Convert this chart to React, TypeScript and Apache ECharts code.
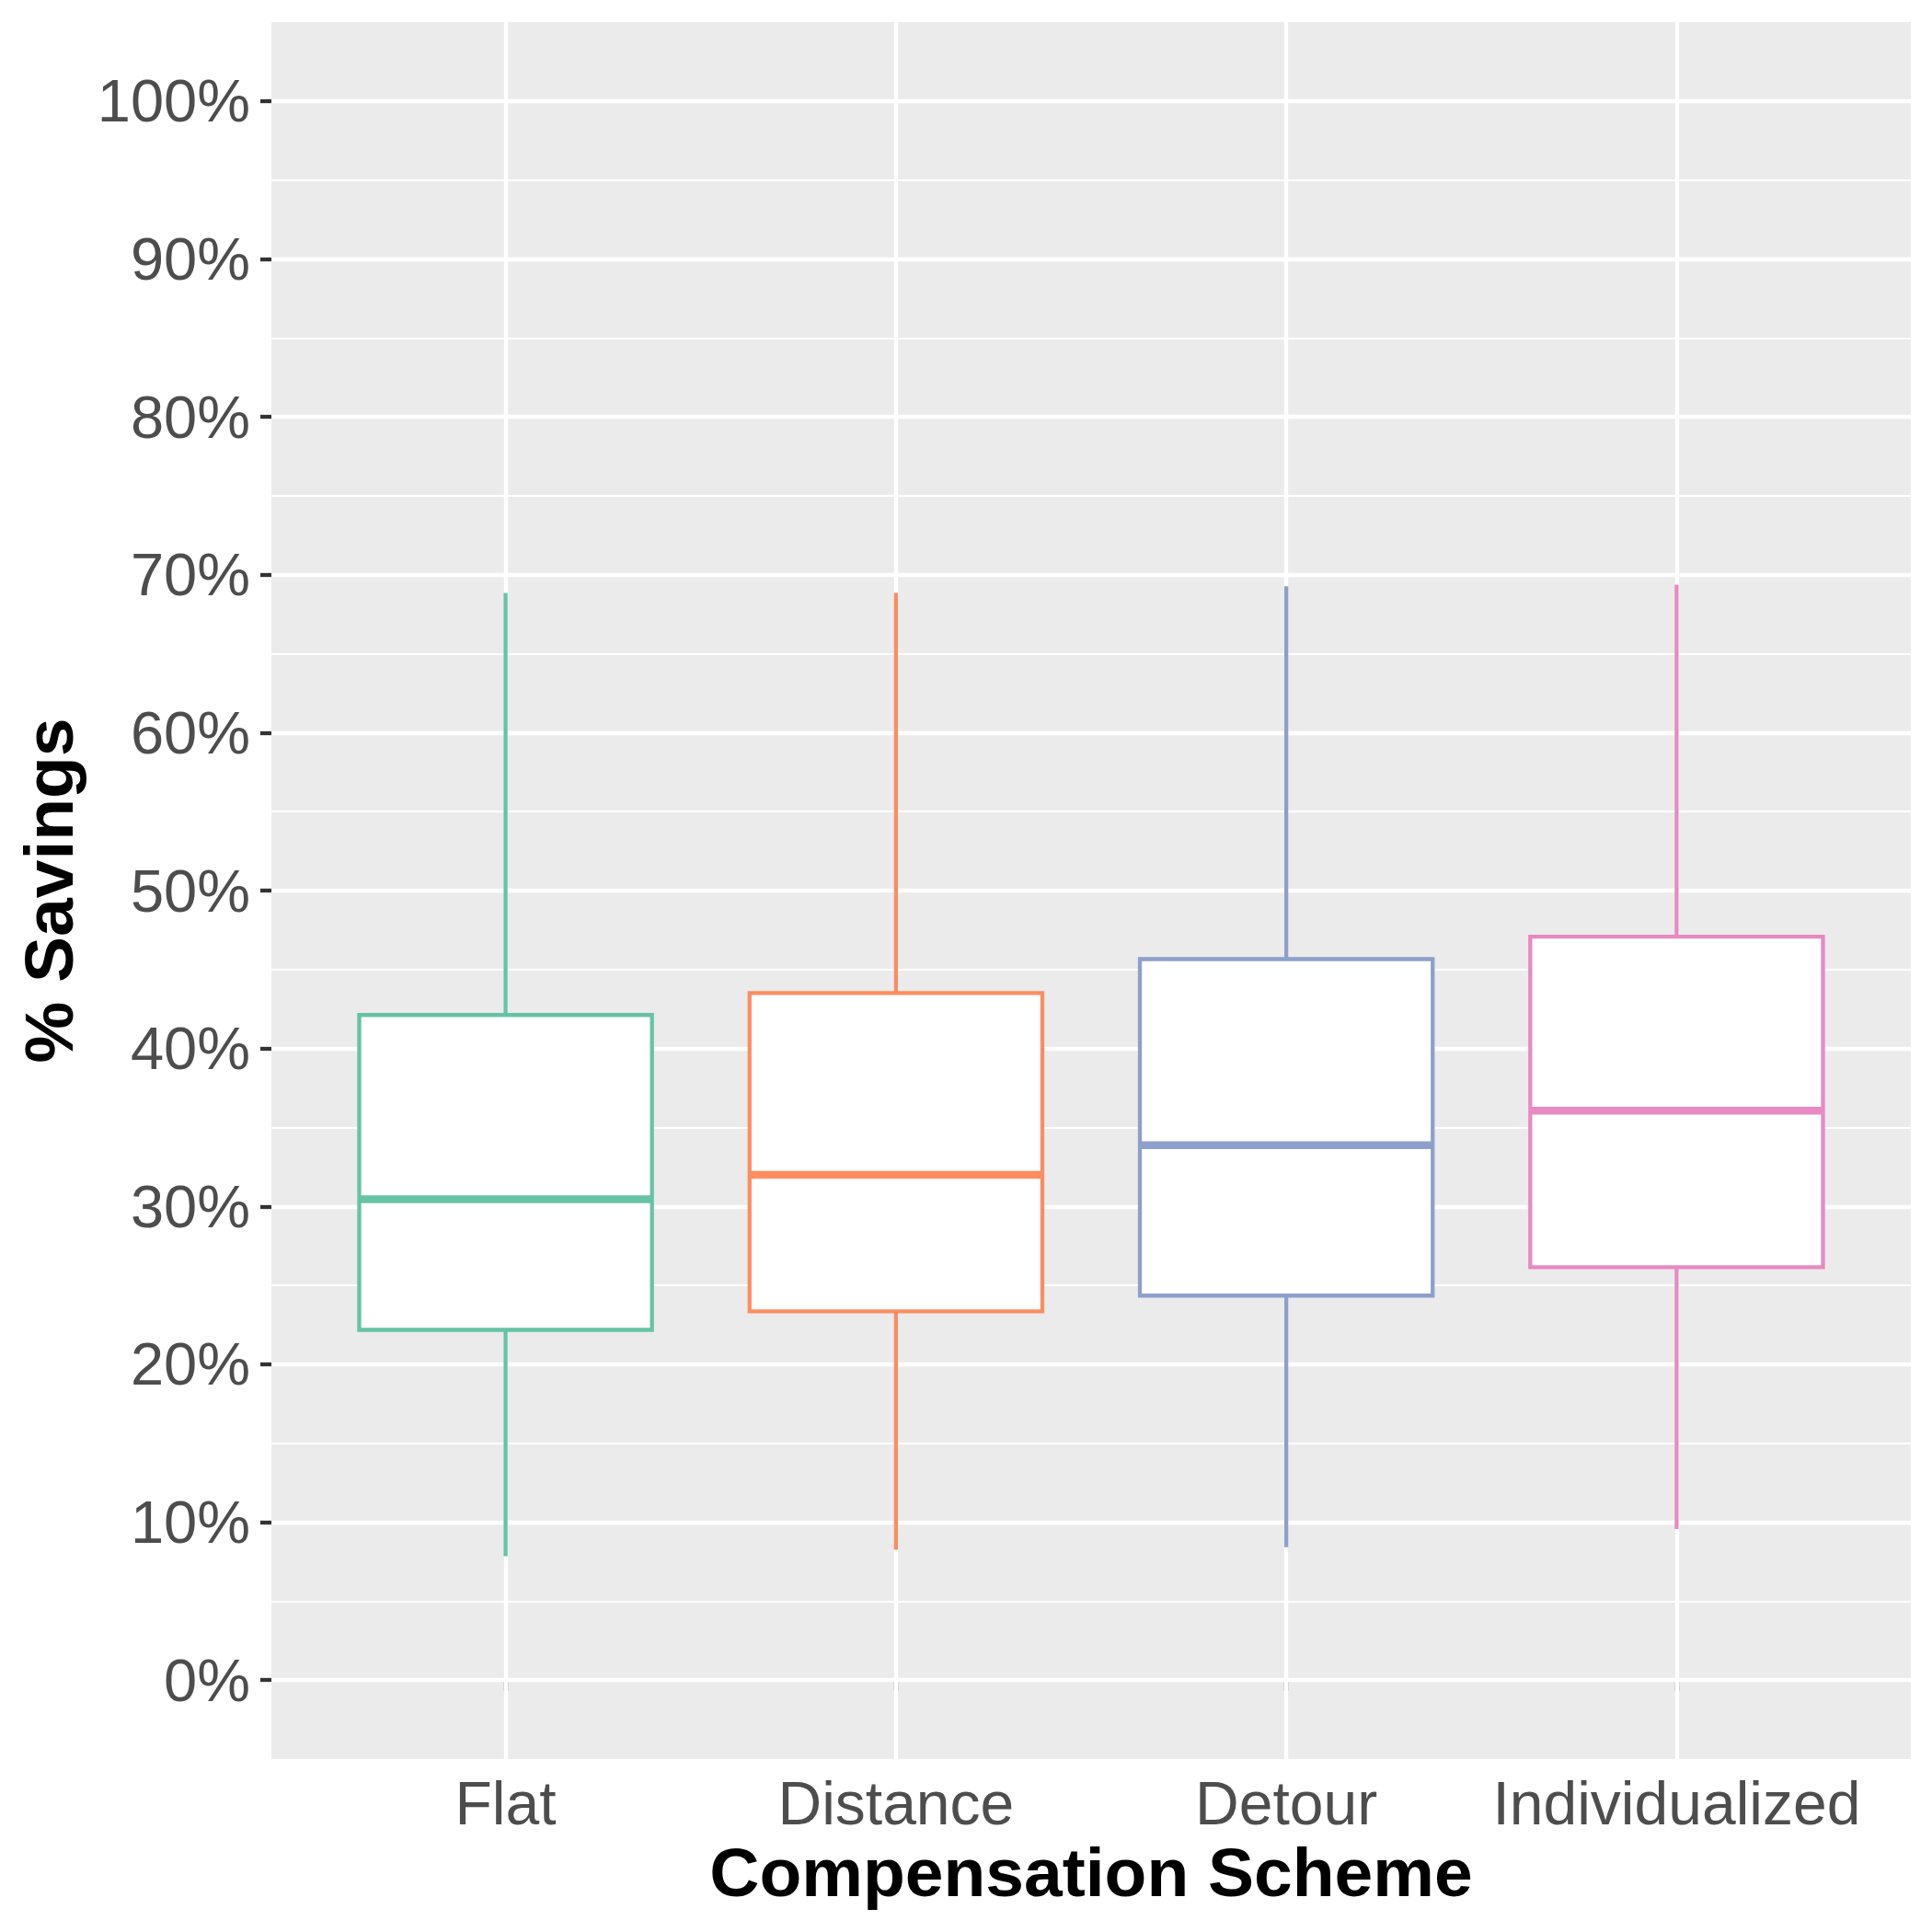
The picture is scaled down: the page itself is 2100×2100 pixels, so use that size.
import React, { useEffect, useRef } from "react";
import * as echarts from "echarts";

const categories = ["Flat", "Distance", "Detour", "Individualized"];
const positions = [1, 2, 3, 4];
const whiskerLow = [7.85, 8.26, 8.41, 9.57];
const lowerQuartile = [22.18, 23.35, 24.35, 26.15];
const medians = [30.45, 32.0, 33.88, 36.06];
const upperQuartile = [42.12, 43.51, 45.66, 47.08];
const whiskerHigh = [68.85, 68.85, 69.27, 69.37];
const yMajorTicks = [0, 10, 20, 30, 40, 50, 60, 70, 80, 90, 100];
const yMinorTicks = [5, 15, 25, 35, 45, 55, 65, 75, 85, 95];
const boxColors = ["#66C2A5", "#FC8D62", "#8DA0CB", "#E78AC3"];

const FONT = "'Liberation Sans', Arial, Helvetica, sans-serif";
const MAJOR_W = 4.3;
const MINOR_W = 2.1;
const BOX_W = 4.3;
const MEDIAN_W = 8.6;
const BOX_WIDTH_UNITS = 0.75;

export default function App() {
  const ref = useRef<HTMLDivElement>(null);

  useEffect(() => {
    document.body.style.margin = "0";
    if (!ref.current) return;
    const chart = echarts.init(ref.current, undefined, { renderer: "svg" });

    const boxData = positions.map((p, i) => [
      p,
      whiskerLow[i],
      lowerQuartile[i],
      medians[i],
      upperQuartile[i],
      whiskerHigh[i],
    ]);

    const gridLines: any[] = [
      ...yMinorTicks.map((v) => ({ yAxis: v, lineStyle: { width: MINOR_W } })),
      ...yMajorTicks.map((v) => ({ yAxis: v, lineStyle: { width: MAJOR_W } })),
      ...positions.map((v) => ({ xAxis: v, lineStyle: { width: MAJOR_W } })),
    ];

    const option: any = {
      animation: false,
      backgroundColor: "#FFFFFF",
      grid: {
        left: 295,
        right: 23,
        top: 24,
        bottom: 188,
        show: true,
        backgroundColor: "#EBEBEB",
        borderWidth: 0,
        containLabel: false,
      },
      xAxis: {
        type: "value",
        min: 0.4,
        max: 4.6,
        axisLine: { show: false },
        axisTick: {
          show: true,
          customValues: positions,
          length: 12,
          lineStyle: { color: "#333333", width: MAJOR_W },
        },
        axisLabel: {
          customValues: positions,
          formatter: (v: number) => {
            const idx = Math.round(v) - 1;
            return Math.abs(v - Math.round(v)) < 1e-6 && categories[idx] ? categories[idx] : "";
          },
          margin: 15,
          fontSize: 66,
          color: "#4D4D4D",
          fontFamily: FONT,
        },
        splitLine: { show: false },
        name: "Compensation Scheme",
        nameLocation: "middle",
        nameGap: 85,
        nameTextStyle: {
          fontSize: 75,
          fontWeight: "bold",
          color: "#000000",
          fontFamily: FONT,
        },
      },
      yAxis: {
        type: "value",
        min: -5,
        max: 105,
        axisLine: { show: false },
        axisTick: {
          show: true,
          customValues: yMajorTicks,
          length: 12,
          lineStyle: { color: "#333333", width: MAJOR_W },
        },
        axisLabel: {
          customValues: yMajorTicks,
          formatter: (v: number) => `${v}%`,
          margin: 23,
          fontSize: 65,
          color: "#4D4D4D",
          fontFamily: FONT,
        },
        splitLine: { show: false },
        name: "% Savings",
        nameLocation: "middle",
        nameGap: 205,
        nameRotate: 90,
        nameTextStyle: {
          fontSize: 75,
          fontWeight: "bold",
          color: "#000000",
          fontFamily: FONT,
        },
      },
      series: [
        {
          type: "line",
          data: [],
          z: 1,
          silent: true,
          markLine: {
            silent: true,
            symbol: ["none", "none"],
            label: { show: false },
            emphasis: { disabled: true },
            lineStyle: { color: "#FFFFFF", type: "solid", opacity: 1 },
            data: gridLines,
          },
        },
        {
          type: "custom",
          z: 5,
          silent: true,
          encode: { x: 0, y: [1, 2, 3, 4, 5] },
          data: boxData,
          renderItem: (params: any, api: any) => {
            const x = api.value(0);
            const idx = params.dataIndex;
            const color = boxColors[idx];
            const pMin = api.coord([x, api.value(1)]);
            const pQ1 = api.coord([x, api.value(2)]);
            const pMed = api.coord([x, api.value(3)]);
            const pQ3 = api.coord([x, api.value(4)]);
            const pMax = api.coord([x, api.value(5)]);
            const half = api.size([BOX_WIDTH_UNITS, 0])[0] / 2;
            const cx = pMed[0];
            return {
              type: "group",
              children: [
                {
                  type: "line",
                  shape: { x1: cx, y1: pQ3[1], x2: cx, y2: pMax[1] },
                  style: { stroke: color, lineWidth: BOX_W, lineCap: "butt" },
                },
                {
                  type: "line",
                  shape: { x1: cx, y1: pQ1[1], x2: cx, y2: pMin[1] },
                  style: { stroke: color, lineWidth: BOX_W, lineCap: "butt" },
                },
                {
                  type: "rect",
                  shape: {
                    x: cx - half,
                    y: pQ3[1],
                    width: half * 2,
                    height: pQ1[1] - pQ3[1],
                  },
                  style: { fill: "#FFFFFF", stroke: color, lineWidth: BOX_W },
                },
                {
                  type: "line",
                  shape: { x1: cx - half, y1: pMed[1], x2: cx + half, y2: pMed[1] },
                  style: { stroke: color, lineWidth: MEDIAN_W, lineCap: "butt" },
                },
              ],
            };
          },
        },
      ],
    };

    chart.setOption(option);
    return () => chart.dispose();
  }, []);

  return <div ref={ref} style={{ width: 2100, height: 2100 }} />;
}
